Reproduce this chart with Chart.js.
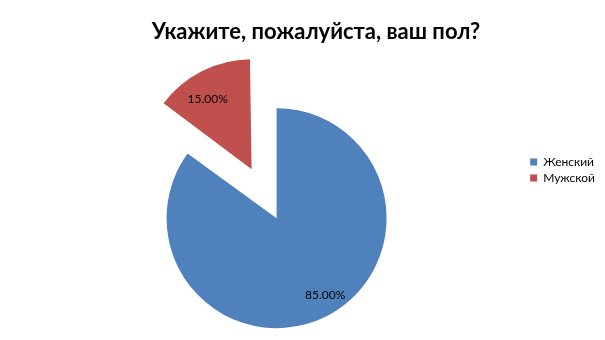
<!DOCTYPE html>
<html>
<head>
<meta charset="utf-8">
<script src="https://cdn.jsdelivr.net/npm/chart.js@4"></script>
<style>
  html, body { margin: 0; padding: 0; background: #fff; }
</style>
</head>
<body>
<canvas id="myChart" width="605" height="340"></canvas>
<script>
const chartTitle = "Укажите, пожалуйста, ваш пол?";
const categories = ["Женский", "Мужской"];
const shares = [85, 15];
const sliceColors = ["#4F81BD", "#C0504D"];
// Chart.js v4 moves an arc by offset / 4, so 220 -> 55px pull-out
const sliceOffsets = [0, 220];

// keep the pulled-out slice at the same radius as the rest
const keepRadius = {
  id: "keepRadius",
  afterDatasetUpdate(chart, args) {
    args.meta.data.forEach((arc) => {
      const off = (arc.options.offset || 0) / 4;
      const fix = 1 - Math.sin(Math.min(Math.PI, arc.circumference));
      arc.outerRadius -= off * fix;
    });
  }
};

// percent labels, a little before each slice's middle angle (like Excel)
const pieLabels = {
  id: "pieLabels",
  afterDatasetsDraw(chart) {
    const ctx = chart.ctx;
    const meta = chart.getDatasetMeta(0);
    ctx.save();
    ctx.font = "12px Lato";
    ctx.fillStyle = "#000";
    ctx.textAlign = "center";
    ctx.textBaseline = "middle";
    meta.data.forEach((arc, i) => {
      const off = (arc.options.offset || 0) / 4;
      const mid = (arc.startAngle + arc.endAngle) / 2;
      const a = mid - 0.09;
      const r = arc.outerRadius * 0.83;
      const cx = arc.x + Math.cos(mid) * off;
      const cy = arc.y + Math.sin(mid) * off;
      ctx.fillText(shares[i].toFixed(2) + "%", cx + Math.cos(a) * r, cy + Math.sin(a) * r);
    });
    ctx.restore();
  }
};

new Chart("myChart", {
  type: "pie",
  data: {
    labels: categories,
    datasets: [{
      data: shares,
      backgroundColor: sliceColors,
      borderWidth: 0,
      offset: sliceOffsets
    }]
  },
  options: {
    responsive: false,
    animation: false,
    radius: 110,
    layout: { padding: { left: 27, right: 0, top: 0, bottom: 0 } },
    plugins: {
      tooltip: { enabled: false },
      title: {
        display: true,
        text: chartTitle,
        color: "#000",
        font: { family: "Lato", size: 22, weight: "bold" },
        padding: { top: 19, bottom: 51 }
      },
      legend: {
        position: "right",
        align: "center",
        labels: {
          boxWidth: 7,
          boxHeight: 7,
          padding: 4,
          color: "#000",
          font: { family: "Lato", size: 12 }
        }
      }
    }
  },
  plugins: [keepRadius, pieLabels]
});
</script>
</body>
</html>
